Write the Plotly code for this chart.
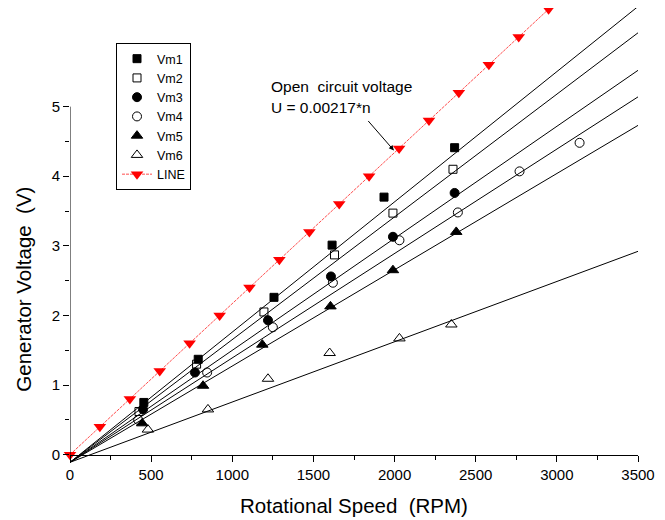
import plotly.graph_objects as go

# measured points
vm1_x = [455, 790, 1257, 1615, 1935, 2370]
vm1_y = [0.75, 1.37, 2.26, 3.01, 3.70, 4.41]
vm2_x = [425, 780, 1195, 1630, 1990, 2360]
vm2_y = [0.62, 1.30, 2.05, 2.87, 3.47, 4.10]
vm3_x = [450, 770, 1220, 1608, 1990, 2370]
vm3_y = [0.65, 1.18, 1.93, 2.56, 3.13, 3.76]
vm4_x = [420, 845, 1250, 1620, 2030, 2390, 2770, 3140]
vm4_y = [0.50, 1.18, 1.83, 2.47, 3.08, 3.48, 4.07, 4.48]
vm5_x = [445, 820, 1185, 1605, 1990, 2380]
vm5_y = [0.45, 0.99, 1.58, 2.13, 2.65, 3.20]
vm6_x = [480, 850, 1220, 1600, 2030, 2350]
vm6_y = [0.36, 0.65, 1.09, 1.46, 1.67, 1.87]

# open circuit voltage U = 0.00217*n
line_x = [0, 184, 369, 553, 737, 922, 1106, 1290, 1475, 1659, 1843,
          2028, 2212, 2396, 2581, 2765, 2949]
line_y = [0.0, 0.4, 0.8, 1.2, 1.6, 2.0, 2.4, 2.8, 3.2, 3.6, 4.0,
          4.4, 4.8, 5.2, 5.6, 6.0, 6.4]

# linear fits
fit_x = [0, 3500]
fit_intercept = [-0.11, -0.11, -0.11, -0.11, -0.11, -0.11]
fit_slope = [0.001871, 0.001763, 0.001609, 0.0015, 0.001383, 0.000866]

series = [
    ('Vm1', vm1_x, vm1_y, 'square', 8),
    ('Vm2', vm2_x, vm2_y, 'square-open', 8),
    ('Vm3', vm3_x, vm3_y, 'circle', 9),
    ('Vm4', vm4_x, vm4_y, 'circle-open', 9),
    ('Vm5', vm5_x, vm5_y, 'triangle-up', 10),
    ('Vm6', vm6_x, vm6_y, 'triangle-up-open', 10),
]

fig = go.Figure()

for a, b in zip(fit_intercept, fit_slope):
    fig.add_trace(go.Scatter(
        x=fit_x, y=[a + b * v for v in fit_x],
        mode='lines', line=dict(color='black', width=1),
        showlegend=False, hoverinfo='skip'
    ))

for name, xs, ys, sym, sz in series:
    fig.add_trace(go.Scatter(
        x=xs, y=ys, name=name, mode='markers',
        marker=dict(symbol=sym, size=sz, color='black',
                    line=dict(color='black', width=1)),
        cliponaxis=False
    ))

fig.add_trace(go.Scatter(
    x=line_x, y=line_y, name='LINE', mode='lines+markers',
    line=dict(color='#ff2020', width=0.8, dash='3px,1px'),
    marker=dict(symbol='triangle-down', size=11, color='#ff0000'),
    cliponaxis=False
))

fnt = 'Arial, Liberation Sans, sans-serif'

# y axis line only spans 0..5
fig.add_shape(type='line', xref='x', yref='y', x0=0, x1=0, y0=0, y1=5,
              line=dict(color='black', width=1))

fig.add_annotation(x=1226, y=5.29, xref='x', yref='y', text='Open  circuit voltage',
                   showarrow=False, xanchor='left', font=dict(size=15.5, color='black'))
fig.add_annotation(x=1226, y=4.99, xref='x', yref='y', text='U = 0.00217*n',
                   showarrow=False, xanchor='left', font=dict(size=15.5, color='black'))
fig.add_annotation(x=1996, y=4.37, xref='x', yref='y', text='',
                   showarrow=True, ax=-27, ay=-31, arrowhead=2, arrowsize=1,
                   arrowwidth=1, arrowcolor='black')

# y title centred on the 0..5 axis span, as in the original
fig.add_annotation(x=0, y=2.37, xref='paper', yref='y', text='Generator Voltage \u00a0(V)',
                   textangle=-90, showarrow=False, xanchor='center', yanchor='middle',
                   xshift=-46, font=dict(size=20.5, color='black'))

# page has an 8px body margin, so the figure is 8px smaller each way
y_lo, y_hi = -0.12, 6.417

fig.update_layout(
    width=657, height=512,
    margin=dict(l=62, r=27, t=0, b=57),
    paper_bgcolor='white', plot_bgcolor='white',
    font=dict(family=fnt, size=15, color='black'),
    showlegend=True,
    legend=dict(x=0.081, y=0.923, xanchor='left', yanchor='top',
                bordercolor='black', borderwidth=1, bgcolor='white',
                font=dict(size=12.5)),
    xaxis=dict(
        range=[0, 3500], tickmode='array',
        tickvals=[0, 500, 1000, 1500, 2000, 2500, 3000, 3500],
        ticks='outside', ticklen=6, tickwidth=1, tickcolor='black',
        minor=dict(tickvals=[250, 750, 1250, 1750, 2250, 2750, 3250],
                   ticks='outside', ticklen=4, tickcolor='black'),
        showline=True, linecolor='black', linewidth=1,
        showgrid=False, zeroline=False, automargin=False,
        anchor='free', position=(0 - y_lo) / (y_hi - y_lo),
        title=dict(text='Rotational Speed \u00a0(RPM)', font=dict(size=20.5), standoff=17),
    ),
    yaxis=dict(
        range=[y_lo, y_hi], tickmode='array', tickvals=[0, 1, 2, 3, 4, 5],
        ticks='outside', ticklen=6, tickwidth=1, tickcolor='black',
        minor=dict(tickvals=[0.5, 1.5, 2.5, 3.5, 4.5],
                   ticks='outside', ticklen=4, tickcolor='black'),
        showline=False, showgrid=False, zeroline=False, automargin=False,
    ),
)

fig.write_html('out.html')
